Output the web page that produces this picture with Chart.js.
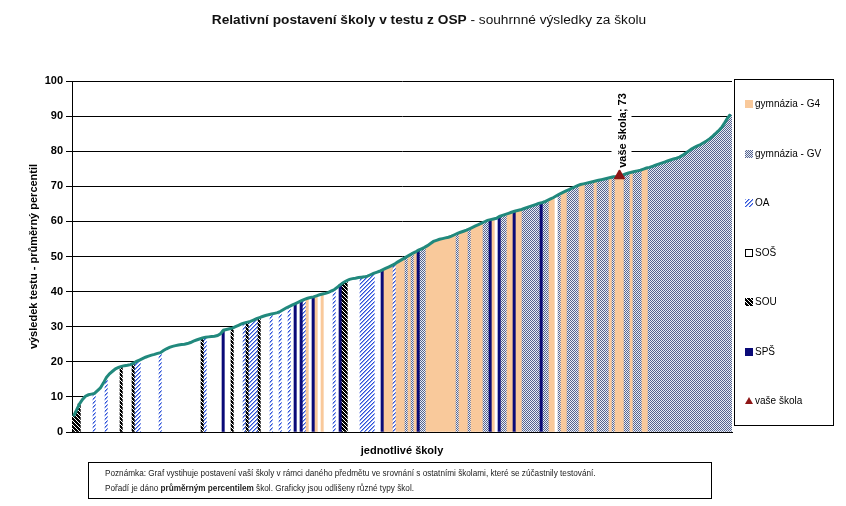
<!DOCTYPE html>
<html>
<head>
<meta charset="utf-8">
<script src="https://cdn.jsdelivr.net/npm/chart.js@4.4.1/dist/chart.umd.min.js"></script>
<style>
  body { margin: 0; background: #fff; font-family: "Liberation Sans", Arial, sans-serif; }
  #wrap { position: relative; width: 846px; height: 506px; }
  #title { position: absolute; top: 12px; left: 0; width: 858px; text-align: center; font-size: 13.7px; color: #111; }
  #note { position: absolute; left: 88px; top: 462px; width: 606px; height: 32px; border: 1px solid #000;
          font-size: 8.2px; line-height: 15px; color: #222; padding: 3px 0 0 16px; }
  canvas { position: absolute; left: 0; top: 0; }
</style>
</head>
<body>
<div id="wrap">
  <canvas id="osp" width="846" height="506"></canvas>
  <div id="title"><b>Relativní postavení školy v testu z OSP</b> - souhrnné výsledky za školu</div>
  <div id="note">
    Poznámka: Graf vystihuje postavení vaší školy v rámci daného předmětu ve srovnání s ostatními školami, které se zúčastnily testování.<br>
    Pořadí je dáno <b>průměrným percentilem</b> škol. Graficky jsou odlišeny různé typy škol.
  </div>
</div>
<script>
// průměrný percentil jednotlivých škol (seřazeno)
const percentiles = [
  4.5, 6.2, 8, 9.3, 10.2, 10.6, 10.8, 11.0, 11.8, 12.6,
  14.0, 15.6, 16.6, 17.3, 18.0, 18.4, 18.7, 18.9, 19.0, 19.2,
  19.6, 20.1, 20.5, 20.9, 21.3, 21.6, 21.9, 22.1, 22.4, 22.6,
  23.2, 23.7, 24.1, 24.4, 24.6, 24.8, 24.9, 25.0, 25.2, 25.5,
  25.9, 26.2, 26.5, 26.8, 27.0, 27.1, 27.2, 27.3, 27.5, 28.0,
  29.0, 29.2, 29.4, 29.6, 30.0, 30.4, 30.8, 31.1, 31.3, 31.5,
  31.9, 32.3, 32.6, 32.9, 33.2, 33.4, 33.6, 33.8, 34.0, 34.4,
  34.9, 35.4, 35.8, 36.2, 36.6, 37.0, 37.4, 37.8, 38.1, 38.3,
  38.5, 38.8, 39.1, 39.3, 39.5, 39.8, 40.2, 40.6, 41.3, 42.0,
  42.6, 43.1, 43.5, 43.7, 43.8, 44.0, 44.1, 44.2, 44.4, 44.8,
  45.2, 45.5, 45.8, 46.2, 46.6, 47.0, 47.4, 47.8, 48.4, 48.9,
  49.4, 49.9, 50.4, 50.9, 51.3, 51.8, 52.2, 52.6, 53.1, 53.7,
  54.3, 54.6, 54.9, 55.1, 55.3, 55.5, 55.8, 56.2, 56.6, 56.9,
  57.2, 57.5, 57.9, 58.3, 58.7, 59.1, 59.5, 59.9, 60.3, 60.5,
  60.7, 60.9, 61.4, 61.7, 62.0, 62.3, 62.6, 62.9, 63.1, 63.3,
  63.6, 63.9, 64.2, 64.5, 64.8, 65.1, 65.3, 65.6, 66.0, 66.4,
  66.8, 67.3, 67.8, 68.2, 68.6, 69.0, 69.4, 69.8, 70.2, 70.5,
  70.7, 70.9, 71.1, 71.3, 71.5, 71.7, 71.9, 72.1, 72.3, 72.5,
  72.7, 72.8, 73.0, 73.2, 73.5, 73.8, 74.0, 74.2, 74.4, 74.6,
  74.9, 75.2, 75.4, 75.7, 76.0, 76.3, 76.6, 76.9, 77.2, 77.5,
  77.8, 78.0, 78.3, 78.8, 79.4, 80.0, 80.6, 81.1, 81.5, 81.9,
  82.4, 82.9, 83.5, 84.2, 85.0, 85.8, 86.7, 88.0, 89.4, 90.5
];

// typ školy: G = gymnázia G4, V = gymnázia GV, O = OA, S = SOŠ, U = SOU, P = SPŠ
const schoolTypes = (
  "UUUSSSSOSS" + "SOSSSSUSSS" + "UOOSSSSSSO" + "SSSSSSSSSS" + "SSSUOSSSSS" +
  "PSSUSSSOUO" + "OOUSSSOSSO" + "SSOSPSPOGS" + "PGSGSSSOSP" + "UUSSSSOOOO" +
  "OSSPGGGOGG" + "GVGVGPVVGG" + "GGGGGGGGVG" + "GGVGGGGVVP" + "GSPVVGGPGG" +
  "VVVVVVPVVG" + "GSVGGVVVVG" + "GVVVGVVVVG" + "VGGGVVGVVV" + "GGVVVVVVVV" +
  "VVVVVVVVVV" + "VVVVVVVVVV"
).split("");

const legendTypes = ["G", "V", "O", "S", "U", "P", "M"];
const legendLabels = ["gymnázia - G4", "gymnázia - GV", "OA", "SOŠ", "SOU", "SPŠ", "vaše škola"];

const ourSchool = 182;
const ourValue = 73;
const ourLabel = "vaše škola";

const yTicks = [0, 10, 20, 30, 40, 50, 60, 70, 80, 90, 100];

const FONT = '"Liberation Sans", Arial, sans-serif';

function tile(size, paint) {
  const c = document.createElement('canvas');
  c.width = c.height = size;
  const g = c.getContext('2d');
  for (let yy = 0; yy < size; yy++)
    for (let xx = 0; xx < size; xx++) {
      g.fillStyle = paint(xx, yy);
      g.fillRect(xx, yy, 1, 1);
    }
  return g.createPattern(c, 'repeat');
}

const fills = {
  G: '#F9C99B',
  V: tile(2, (x, y) => ((x + y) % 2 === 0 ? '#56638E' : '#E8EDF6')),
  O: tile(4, (x, y) => ((x + y) % 4 === 3 ? '#2F52D6' : ((x + y) % 4 === 0 ? '#8CA2EE' : '#FFFFFF'))),
  S: '#FFFFFF',
  U: tile(4, (x, y) => ((x - y + 4) % 4 === 0 ? '#FFFFFF' : '#000000')),
  P: '#0A0A78'
};

const markerData = percentiles.map((v, i) => (i === ourSchool ? ourValue : null));

const overlay = {
  id: 'overlay',
  afterDatasetsDraw(chart) {
    const {ctx, scales: {x, y}} = chart;
    const px = x.getPixelForValue(ourSchool);
    const py = y.getPixelForValue(ourValue);
    const text = ourLabel + '; ' + ourValue;
    ctx.save();
    ctx.font = 'bold 11px ' + FONT;
    const w = ctx.measureText(text).width;
    const base = py - 8;
    ctx.fillStyle = '#fff';
    ctx.fillRect(px - 8, base - w - 4, 20, w + 6);
    ctx.translate(px + 6, base);
    ctx.rotate(-Math.PI / 2);
    ctx.fillStyle = '#000';
    ctx.textBaseline = 'alphabetic';
    ctx.fillText(text, 0, 0);
    ctx.restore();
  },
  afterDraw(chart) {
    const ctx = chart.ctx;
    ctx.save();
    ctx.strokeStyle = '#000';
    ctx.lineWidth = 1;
    ctx.strokeRect(734.5, 79.5, 99, 346);
    ctx.font = '10px ' + FONT;
    ctx.textBaseline = 'middle';
    legendTypes.forEach((t, k) => {
      const yy = Math.round(104 + k * 49.5);
      if (t === 'M') {
        ctx.fillStyle = '#8E1616';
        ctx.beginPath();
        ctx.moveTo(749, yy - 4);
        ctx.lineTo(753, yy + 3);
        ctx.lineTo(745, yy + 3);
        ctx.closePath();
        ctx.fill();
      } else {
        ctx.fillStyle = fills[t];
        ctx.fillRect(745, yy - 4, 8, 8);
        if (t === 'S') ctx.strokeRect(745.5, yy - 3.5, 7, 7);
      }
      ctx.fillStyle = '#000';
      ctx.fillText(legendLabels[k], 755, yy);
    });
    ctx.restore();
  }
};

new Chart(document.getElementById('osp'), {
  type: 'bar',
  data: {
    labels: percentiles.map((v, i) => String(i + 1)),
    datasets: [
      {
        type: 'line', label: ourLabel, data: markerData, order: 0, showLine: false,
        pointStyle: 'triangle', pointRadius: 7, pointBackgroundColor: '#8E1616', pointBorderColor: '#8E1616', pointBorderWidth: 0
      },
      {
        type: 'line', label: 'pořadí', data: percentiles, order: 1,
        borderColor: '#21897D', borderWidth: 3, pointRadius: 0, tension: 0, fill: false
      },
      {
        type: 'bar', label: 'školy', data: percentiles, order: 2,
        backgroundColor: schoolTypes.map(t => fills[t]),
        borderWidth: 0, barPercentage: 1, categoryPercentage: 1
      }
    ]
  },
  options: {
    responsive: false,
    animation: false,
    events: [],
    layout: { padding: { left: 27, right: 114, top: 81, bottom: 48 } },
    plugins: { legend: { display: false }, tooltip: { enabled: false } },
    scales: {
      x: {
        grid: { display: false },
        border: { display: true, color: '#000', width: 1 },
        ticks: { display: false },
        title: { display: true, text: 'jednotlivé školy', color: '#000', padding: 0,
                 font: { family: FONT, size: 11, weight: 'bold' } },
        afterFit(s) { s.height = 26; }
      },
      y: {
        min: 0, max: 100,
        afterBuildTicks(s) { s.ticks = yTicks.map(v => ({ value: v })); },
        ticks: { color: '#000', padding: 3, font: { family: FONT, size: 11, weight: 'bold' } },
        grid: { color: '#000', lineWidth: 1, tickLength: 6 },
        border: { color: '#000', width: 1 },
        title: { display: true, text: 'výsledek testu - průměrný percentil', color: '#000', padding: 0,
                 font: { family: FONT, size: 11, weight: 'bold' } },
        afterFit(s) { s.width = 45; }
      }
    }
  },
  plugins: [overlay]
});
</script>
</body>
</html>
